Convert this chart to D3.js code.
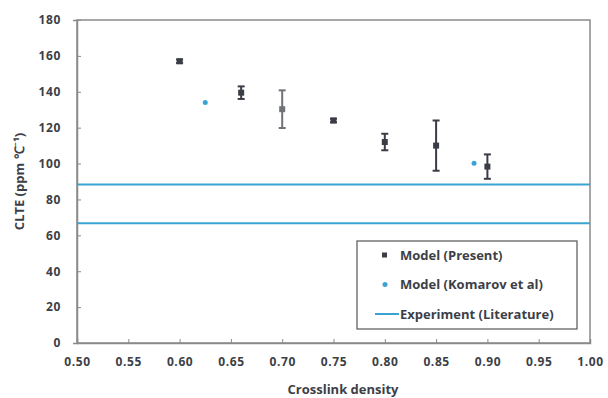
<!DOCTYPE html>
<html>
<head>
<meta charset="utf-8">
<script src="https://cdn.jsdelivr.net/npm/d3@7"></script>
<style>
  body { margin: 0; background: #fff; }
  text { font-family: "Open Sans", Lato, sans-serif; font-weight: bold; fill: #3c3f47; }
</style>
</head>
<body>
<svg id="chart"></svg>
<script>
// Model (Present) points with error bars
const presentX = [0.60, 0.66, 0.70, 0.75, 0.80, 0.85, 0.90];
const presentY = [157, 139.5, 130.3, 124, 112, 110, 98.3];
const presentErr = [1, 3.5, 10.5, 1, 4.6, 14, 6.8];
const presentColor = ['#3a3d45', '#3a3d45', '#6f7278', '#3a3d45', '#3a3d45', '#3a3d45', '#3a3d45'];

// Model (Komarov et al)
const komarovX = [0.625, 0.887];
const komarovY = [134, 100.2];

// Experiment (Literature) horizontal lines
const experimentY = [88.3, 66.7];

const xTicks = [0.50, 0.55, 0.60, 0.65, 0.70, 0.75, 0.80, 0.85, 0.90, 0.95, 1.00];
const yTicks = [0, 20, 40, 60, 80, 100, 120, 140, 160, 180];
const legendLabels = ['Model (Present)', 'Model (Komarov et al)', 'Experiment (Literature)'];

let width = 608, height = 398;
let margin = { top: 20, right: 18, bottom: 55, left: 77 };

let svg = d3.select('#chart')
    .attr('width', width)
    .attr('height', height);

let xScale = d3.scaleLinear()
    .domain([0.5, 1.0])
    .range([margin.left, width - margin.right]);

let yScale = d3.scaleLinear()
    .domain([0, 180])
    .range([height - margin.bottom, margin.top]);

// frame
svg.append('rect')
    .attr('x', margin.left)
    .attr('y', margin.top)
    .attr('width', xScale(1) - xScale(0.5))
    .attr('height', yScale(0) - yScale(180))
    .attr('fill', 'none')
    .attr('stroke', '#8a8a8a')
    .attr('stroke-width', 1.5);

// axes
let xAxis = svg.append('g')
    .attr('transform', `translate(0, ${yScale(0)})`)
    .call(d3.axisBottom(xScale).tickValues(xTicks).tickFormat(d3.format('.2f')).tickSize(-4).tickPadding(14));

let yAxis = svg.append('g')
    .attr('transform', `translate(${margin.left}, 0)`)
    .call(d3.axisLeft(yScale).tickValues(yTicks).tickSize(4).tickPadding(12));

[xAxis, yAxis].forEach(a => {
    a.select('.domain').attr('stroke', '#8a8a8a').attr('stroke-width', 1.5);
    a.selectAll('.tick line').attr('stroke', '#8a8a8a');
    a.selectAll('.tick text')
        .style('font-size', '12px')
        .style('letter-spacing', '0.6px')
        .attr('fill', '#3c3f47');
});
yAxis.selectAll('.tick line').attr('x2', 4);

// axis titles
svg.append('text')
    .attr('x', 343)
    .attr('y', 394)
    .attr('text-anchor', 'middle')
    .style('font-size', '13px')
    .text('Crosslink density');

svg.append('text')
    .attr('transform', `translate(24, ${yScale(90)}) rotate(-90)`)
    .attr('text-anchor', 'middle')
    .style('font-size', '13px')
    .text('CLTE (ppm \u2103\u207B\u00B9)');

// experiment lines
svg.selectAll('.exp')
    .data(experimentY)
    .enter()
    .append('line')
    .attr('x1', xScale(0.5))
    .attr('x2', xScale(1.0))
    .attr('y1', d => yScale(d))
    .attr('y2', d => yScale(d))
    .attr('stroke', '#3ba3d4')
    .attr('stroke-width', 2);

// present model error bars
const present = presentX.map((x, i) => ({ x, y: presentY[i], e: presentErr[i], c: presentColor[i] }));

present.forEach(d => {
    const cx = xScale(d.x);
    svg.append('line')
        .attr('x1', cx).attr('x2', cx)
        .attr('y1', yScale(d.y + d.e)).attr('y2', yScale(d.y - d.e))
        .attr('stroke', d.c).attr('stroke-width', 2);
    [d.y + d.e, d.y - d.e].forEach(v => {
        svg.append('line')
            .attr('x1', cx - 3.5).attr('x2', cx + 3.5)
            .attr('y1', yScale(v)).attr('y2', yScale(v))
            .attr('stroke', d.c).attr('stroke-width', 2);
    });
});

svg.selectAll('.present')
    .data(present)
    .enter()
    .append('rect')
    .attr('x', d => xScale(d.x) - 3)
    .attr('y', d => yScale(d.y) - 3)
    .attr('width', 6)
    .attr('height', 6)
    .attr('fill', d => d.c);

// komarov points
svg.selectAll('.komarov')
    .data(komarovX)
    .enter()
    .append('circle')
    .attr('cx', d => xScale(d))
    .attr('cy', (d, i) => yScale(komarovY[i]))
    .attr('r', 2.5)
    .attr('fill', '#3ba3d4');

// legend
const legend = svg.append('g').attr('transform', 'translate(357, 241)');
legend.append('rect')
    .attr('width', 220)
    .attr('height', 88)
    .attr('fill', '#fff')
    .attr('stroke', '#555')
    .attr('stroke-width', 1.2);

const items = legend.selectAll('.item')
    .data(legendLabels)
    .enter()
    .append('g')
    .attr('transform', (d, i) => `translate(0, ${14 + i * 29.5})`);

items.append('text')
    .attr('x', 43)
    .attr('y', 4.5)
    .style('font-size', '13px')
    .text(d => d);

items.filter((d, i) => i === 0).append('rect')
    .attr('x', 25).attr('y', -2.5).attr('width', 5).attr('height', 5).attr('fill', '#3a3d45');
items.filter((d, i) => i === 1).append('circle')
    .attr('cx', 28).attr('cy', 0).attr('r', 2.5).attr('fill', '#3ba3d4');
items.filter((d, i) => i === 2).append('line')
    .attr('x1', 18).attr('x2', 42).attr('y1', 0).attr('y2', 0)
    .attr('stroke', '#3ba3d4').attr('stroke-width', 2);
</script>
</body>
</html>
